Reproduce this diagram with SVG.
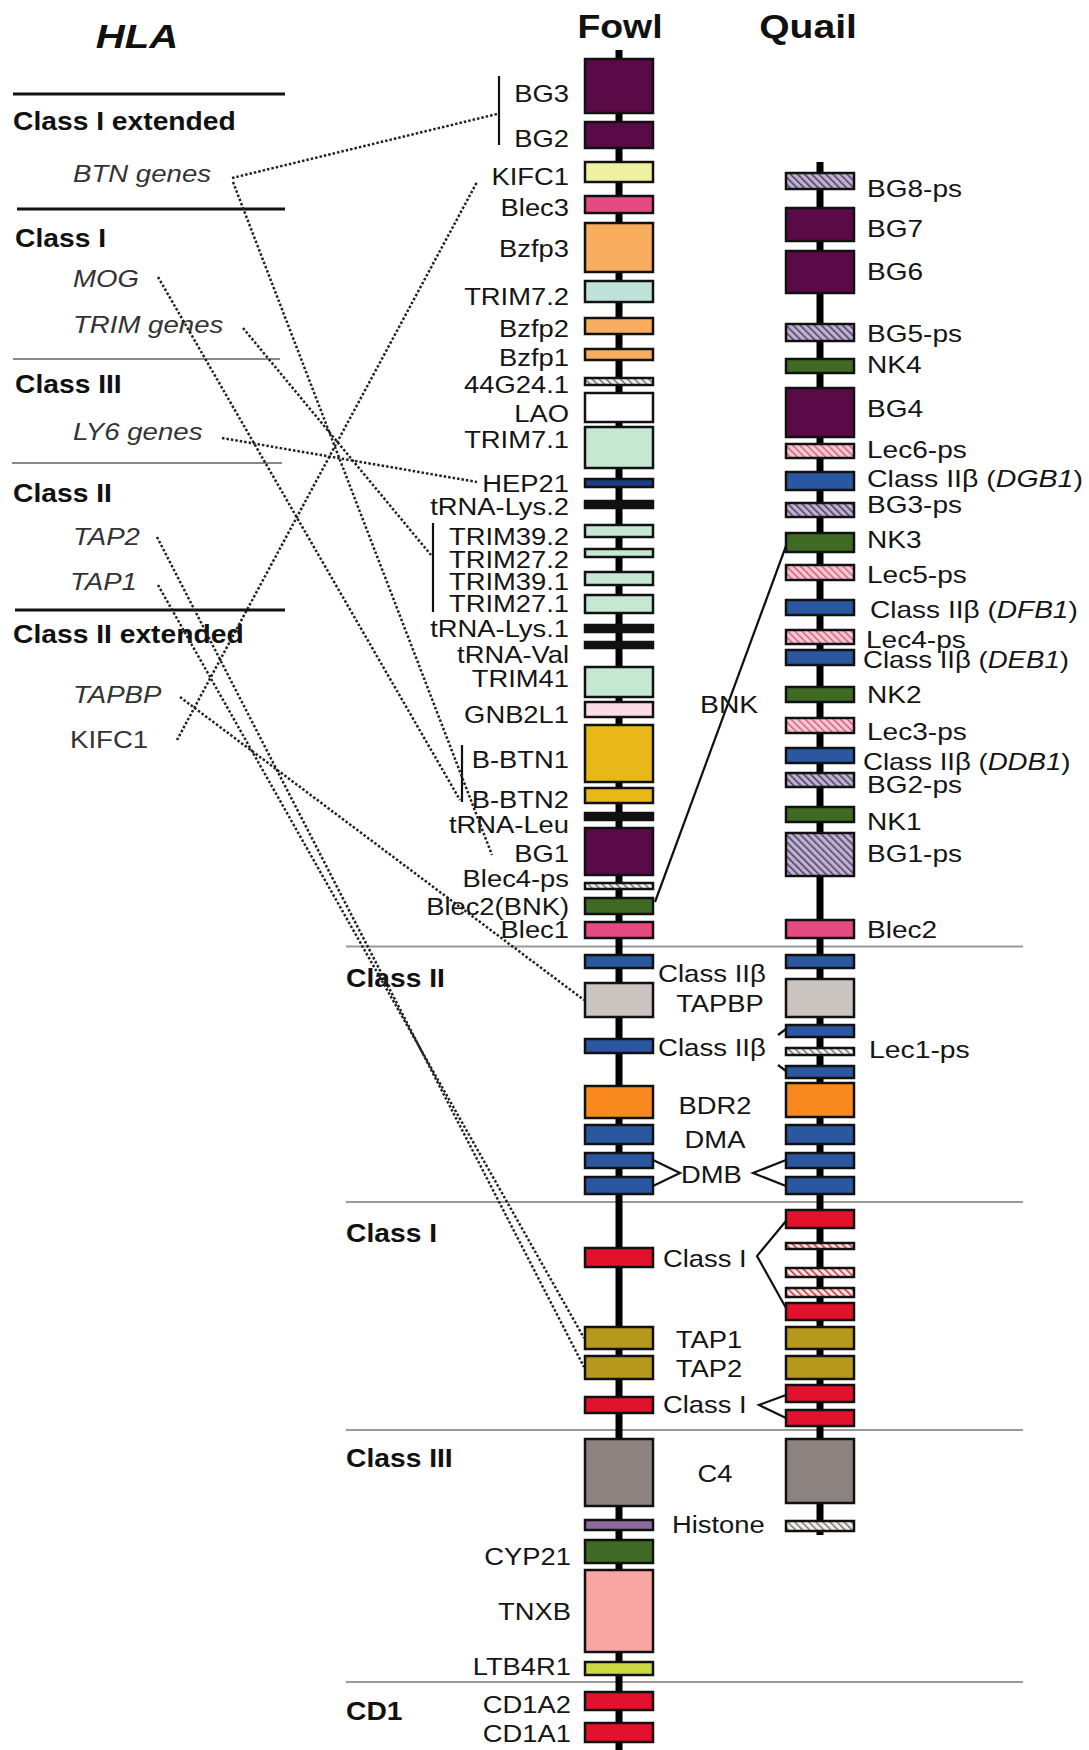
<svg xmlns="http://www.w3.org/2000/svg" width="1089" height="1750" viewBox="0 0 1089 1750">
<defs>
<pattern id="hLav" width="5" height="5" patternUnits="userSpaceOnUse" patternTransform="rotate(-45)"><rect width="5" height="5" fill="#bfb2cf"/><rect width="1.5" height="5" fill="#4b3b5e"/></pattern>
<pattern id="hPink" width="5" height="5" patternUnits="userSpaceOnUse" patternTransform="rotate(-45)"><rect width="5" height="5" fill="#f7c6d2"/><rect width="1.3" height="5" fill="#c4566f"/></pattern>
<pattern id="hGray" width="5" height="5" patternUnits="userSpaceOnUse" patternTransform="rotate(-45)"><rect width="5" height="5" fill="#f3efe8"/><rect width="1.3" height="5" fill="#666"/></pattern>
<pattern id="hRed" width="5" height="5" patternUnits="userSpaceOnUse" patternTransform="rotate(-45)"><rect width="5" height="5" fill="#fbe6e2"/><rect width="1.5" height="5" fill="#d42a3c"/></pattern>
<style>
g>rect{stroke:#111;stroke-width:2.5}
.bg{fill:#5a0a46}.kif{fill:#eef0a2}.blec{fill:#e64a82}.bz{fill:#f9ad5e}.tr{fill:#c6e7d2}.tr2{fill:#bfe3d8}
.lao{fill:#fff}.hep{fill:#1f3d85}.trna{fill:#111}.gnb{fill:#fadbe6}.btn{fill:#e8b818}.nk{fill:#3f6a24}
.cl2{fill:#2b56a0}.tpb{fill:#cac4c1}.bdr{fill:#f7891f}.tap{fill:#b6981c}.cl1{fill:#e2122c}.c4{fill:#8c8381}
.his{fill:#8c6c9f}.tnx{fill:#f9a5a2}.ltb{fill:#cbd841}
.hl{fill:url(#hLav)}.hp{fill:url(#hPink)}.hg{fill:url(#hGray)}.hr{fill:url(#hRed)}
text{font-family:"Liberation Sans",Arial,sans-serif;fill:#151515}
.fl{font-size:24px;text-anchor:end}
.ql{font-size:23px}
.ml{font-size:24px}
.mc{font-size:24px;text-anchor:middle}
.hd{font-size:25px;font-weight:bold;fill:#111}
.gi{font-size:24px;font-style:italic;fill:#333}
.gn{font-size:24px;fill:#333}
.tt{font-size:34px;font-weight:bold;text-anchor:middle;fill:#111}
.dot{fill:none;stroke:#222;stroke-width:2.5;stroke-dasharray:2.5 2}
.sol{fill:none;stroke:#111;stroke-width:2.2}
.chr{stroke:#000;stroke-width:7}
</style>
</defs>
<rect x="0" y="0" width="1089" height="1750" fill="#fff"/>

<g id="hla-panel">
<text class="tt" style="font-style:italic" transform="matrix(1.18 0 0 1 137 48)">HLA</text>
<line x1="13" y1="94" x2="285" y2="94" stroke="#111" stroke-width="3"/>
<line x1="17" y1="209" x2="285" y2="209" stroke="#111" stroke-width="3"/>
<line x1="13" y1="359" x2="280" y2="359" stroke="#888" stroke-width="2"/>
<line x1="12" y1="463" x2="282" y2="463" stroke="#888" stroke-width="2"/>
<line x1="15" y1="610" x2="285" y2="610" stroke="#111" stroke-width="3"/>
<text class="hd" transform="matrix(1.13 0 0 1 13 130)">Class I extended</text>
<text class="gi" transform="matrix(1.15 0 0 1 73 182)">BTN genes</text>
<text class="hd" transform="matrix(1.13 0 0 1 15 247)">Class I</text>
<text class="gi" transform="matrix(1.15 0 0 1 73 287)">MOG</text>
<text class="gi" transform="matrix(1.15 0 0 1 73 333)">TRIM genes</text>
<text class="hd" transform="matrix(1.13 0 0 1 15 393)">Class III</text>
<text class="gi" transform="matrix(1.15 0 0 1 73 440)">LY6 genes</text>
<text class="hd" transform="matrix(1.13 0 0 1 13 502)">Class II</text>
<text class="gi" transform="matrix(1.15 0 0 1 73 545)">TAP2</text>
<text class="gi" transform="matrix(1.15 0 0 1 70 590)">TAP1</text>
<text class="hd" transform="matrix(1.13 0 0 1 13 643)">Class II extended</text>
<text class="gi" transform="matrix(1.15 0 0 1 73 703)">TAPBP</text>
<text class="gn" transform="matrix(1.15 0 0 1 70 748)">KIFC1</text>
</g>

<g id="region-lines">
<line x1="346" y1="946.5" x2="1023" y2="946.5" stroke="#999" stroke-width="2"/>
<line x1="346" y1="1202" x2="1023" y2="1202" stroke="#999" stroke-width="2"/>
<line x1="346" y1="1430" x2="1023" y2="1430" stroke="#999" stroke-width="2"/>
<line x1="346" y1="1682" x2="1023" y2="1682" stroke="#999" stroke-width="2"/>
<text class="hd" transform="matrix(1.13 0 0 1 346 987)">Class II</text>
<text class="hd" transform="matrix(1.13 0 0 1 346 1242)">Class I</text>
<text class="hd" transform="matrix(1.13 0 0 1 346 1467)">Class III</text>
<text class="hd" transform="matrix(1.13 0 0 1 346 1720)">CD1</text>
</g>

<g id="titles">
<text class="tt" transform="matrix(1.1 0 0 1 620 38)">Fowl</text>
<text class="tt" transform="matrix(1.15 0 0 1 808 38)">Quail</text>
</g>

<g id="chromosomes">
<line class="chr" x1="619" y1="50" x2="619" y2="1750"/>
<line class="chr" x1="820" y1="162" x2="820" y2="1535"/>
</g>

<g id="connectors">
<line class="sol" x1="499" y1="76" x2="499" y2="145"/>
<line class="sol" x1="433" y1="523" x2="433" y2="612"/>
<line class="sol" x1="462" y1="745" x2="462" y2="802"/>
<path class="dot" d="M232 178 L497 114"/>
<path class="dot" d="M233 182 L492 855"/>
<path class="dot" d="M158 277 L460 800"/>
<path class="dot" d="M243 328 L431 555"/>
<path class="dot" d="M222 438 L477 482"/>
<path class="dot" d="M157 537 L584 1367"/>
<path class="dot" d="M158 585 L584 1338"/>
<path class="dot" d="M180 697 L584 1000"/>
<path class="dot" d="M177 740 L477 182"/>
<line class="sol" x1="655" y1="902" x2="786" y2="546" stroke-width="2.5"/>
<polyline class="sol" points="653,1160 680,1173 653,1186"/>
<polyline class="sol" points="786,1160 753,1173 786,1186"/>
<polyline class="sol" points="786,1221 757,1256 786,1308"/>
<polyline class="sol" points="786,1395 759,1405 786,1418"/>
<line class="sol" x1="778" y1="1035" x2="786" y2="1029"/>
<line class="sol" x1="778" y1="1065" x2="786" y2="1071"/>
<text class="ml" transform="matrix(1.18 0 0 1 700 713)">BNK</text>
</g>

<g id="fowl">
<g id="f-bg3"><rect class="bg" x="585" y="59" width="68" height="54"/><text class="fl" transform="matrix(1.14 0 0 1 569 102)">BG3</text></g>
<g id="f-bg2"><rect class="bg" x="585" y="122" width="68" height="26"/><text class="fl" transform="matrix(1.14 0 0 1 569 147)">BG2</text></g>
<g id="f-kifc1"><rect class="kif" x="585" y="162" width="68" height="20"/><text class="fl" transform="matrix(1.14 0 0 1 569 185)">KIFC1</text></g>
<g id="f-blec3"><rect class="blec" x="585" y="196" width="68" height="17"/><text class="fl" transform="matrix(1.14 0 0 1 569 216)">Blec3</text></g>
<g id="f-bzfp3"><rect class="bz" x="585" y="223" width="68" height="49"/><text class="fl" transform="matrix(1.14 0 0 1 569 257)">Bzfp3</text></g>
<g id="f-trim72"><rect class="tr2" x="585" y="281" width="68" height="21"/><text class="fl" transform="matrix(1.14 0 0 1 569 305)">TRIM7.2</text></g>
<g id="f-bzfp2"><rect class="bz" x="585" y="318" width="68" height="16"/><text class="fl" transform="matrix(1.14 0 0 1 569 337)">Bzfp2</text></g>
<g id="f-bzfp1"><rect class="bz" x="585" y="349" width="68" height="11"/><text class="fl" transform="matrix(1.14 0 0 1 569 366)">Bzfp1</text></g>
<g id="f-44g241"><rect class="hg" x="585" y="378" width="68" height="7"/><text class="fl" transform="matrix(1.14 0 0 1 569 393)">44G24.1</text></g>
<g id="f-lao"><rect class="lao" x="585" y="393" width="68" height="29"/><text class="fl" transform="matrix(1.14 0 0 1 569 422)">LAO</text></g>
<g id="f-trim71"><rect class="tr" x="585" y="427" width="68" height="41"/><text class="fl" transform="matrix(1.14 0 0 1 569 448)">TRIM7.1</text></g>
<g id="f-hep21"><rect class="hep" x="585" y="479" width="68" height="8"/><text class="fl" transform="matrix(1.14 0 0 1 569 492)">HEP21</text></g>
<g id="f-trnalys2"><rect class="trna" x="585" y="501" width="68" height="7"/><text class="fl" transform="matrix(1.14 0 0 1 569 515)">tRNA-Lys.2</text></g>
<g id="f-trim392"><rect class="tr" x="585" y="525" width="68" height="12"/><text class="fl" transform="matrix(1.14 0 0 1 569 545)">TRIM39.2</text></g>
<g id="f-trim272"><rect class="tr" x="585" y="549" width="68" height="8"/><text class="fl" transform="matrix(1.14 0 0 1 569 568)">TRIM27.2</text></g>
<g id="f-trim391"><rect class="tr" x="585" y="572" width="68" height="13"/><text class="fl" transform="matrix(1.14 0 0 1 569 590)">TRIM39.1</text></g>
<g id="f-trim271"><rect class="tr" x="585" y="595" width="68" height="18"/><text class="fl" transform="matrix(1.14 0 0 1 569 612)">TRIM27.1</text></g>
<g id="f-trnalys1"><rect class="trna" x="585" y="625" width="68" height="7"/><text class="fl" transform="matrix(1.14 0 0 1 569 637)">tRNA-Lys.1</text></g>
<g id="f-trnaval"><rect class="trna" x="585" y="642" width="68" height="6"/><text class="fl" transform="matrix(1.14 0 0 1 569 663)">tRNA-Val</text></g>
<g id="f-trim41"><rect class="tr" x="585" y="667" width="68" height="30"/><text class="fl" transform="matrix(1.14 0 0 1 569 687)">TRIM41</text></g>
<g id="f-gnb2l1"><rect class="gnb" x="585" y="702" width="68" height="15"/><text class="fl" transform="matrix(1.14 0 0 1 569 723)">GNB2L1</text></g>
<g id="f-bbtn1"><rect class="btn" x="585" y="725" width="68" height="57"/><text class="fl" transform="matrix(1.14 0 0 1 569 768)">B-BTN1</text></g>
<g id="f-bbtn2"><rect class="btn" x="585" y="788" width="68" height="15"/><text class="fl" transform="matrix(1.14 0 0 1 569 808)">B-BTN2</text></g>
<g id="f-trnaleu"><rect class="trna" x="585" y="813" width="68" height="7"/><text class="fl" transform="matrix(1.14 0 0 1 569 833)">tRNA-Leu</text></g>
<g id="f-bg1"><rect class="bg" x="585" y="828" width="68" height="47"/><text class="fl" transform="matrix(1.14 0 0 1 569 862)">BG1</text></g>
<g id="f-blec4ps"><rect class="hg" x="585" y="883" width="68" height="6"/><text class="fl" transform="matrix(1.14 0 0 1 569 887)">Blec4-ps</text></g>
<g id="f-blec2bnk"><rect class="nk" x="585" y="898" width="68" height="16"/><text class="fl" transform="matrix(1.14 0 0 1 569 915)">Blec2(BNK)</text></g>
<g id="f-blec1"><rect class="blec" x="585" y="922" width="68" height="16"/><text class="fl" transform="matrix(1.14 0 0 1 569 938)">Blec1</text></g>
<g id="f-cl2b1"><rect class="cl2" x="585" y="955" width="68" height="13"/><text class="ml" transform="matrix(1.15 0 0 1 658 982)">Class IIβ</text></g>
<g id="f-tapbp"><rect class="tpb" x="585" y="983" width="68" height="34"/><text class="mc" transform="matrix(1.14 0 0 1 720 1012)">TAPBP</text></g>
<g id="f-cl2b2"><rect class="cl2" x="585" y="1039" width="68" height="14"/><text class="ml" transform="matrix(1.15 0 0 1 658 1056)">Class IIβ</text></g>
<g id="f-bdr2"><rect class="bdr" x="585" y="1086" width="68" height="32"/><text class="mc" transform="matrix(1.14 0 0 1 715 1114)">BDR2</text></g>
<g id="f-dma"><rect class="cl2" x="585" y="1125" width="68" height="19"/><text class="mc" transform="matrix(1.14 0 0 1 715 1148)">DMA</text></g>
<g id="f-dmb1"><rect class="cl2" x="585" y="1153" width="68" height="15"/><text class="ml" transform="matrix(1.14 0 0 1 681 1183)">DMB</text></g>
<g id="f-dmb2"><rect class="cl2" x="585" y="1177" width="68" height="17"/></g>
<g id="f-class1a"><rect class="cl1" x="585" y="1248" width="68" height="19"/><text class="ml" transform="matrix(1.14 0 0 1 663 1267)">Class I</text></g>
<g id="f-tap1"><rect class="tap" x="585" y="1327" width="68" height="22"/><text class="mc" transform="matrix(1.14 0 0 1 709 1348)">TAP1</text></g>
<g id="f-tap2"><rect class="tap" x="585" y="1356" width="68" height="23"/><text class="mc" transform="matrix(1.14 0 0 1 709 1377)">TAP2</text></g>
<g id="f-class1b"><rect class="cl1" x="585" y="1397" width="68" height="16"/><text class="ml" transform="matrix(1.14 0 0 1 663 1413)">Class I</text></g>
<g id="f-c4"><rect class="c4" x="585" y="1439" width="68" height="67"/><text class="mc" transform="matrix(1.14 0 0 1 715 1482)">C4</text></g>
<g id="f-histone"><rect class="his" x="585" y="1520" width="68" height="10"/><text class="ml" transform="matrix(1.14 0 0 1 672 1533)">Histone</text></g>
<g id="f-cyp21"><rect class="nk" x="585" y="1540" width="68" height="23"/><text class="fl" transform="matrix(1.14 0 0 1 571 1565)">CYP21</text></g>
<g id="f-tnxb"><rect class="tnx" x="585" y="1570" width="68" height="82"/><text class="fl" transform="matrix(1.14 0 0 1 571 1620)">TNXB</text></g>
<g id="f-ltb4r1"><rect class="ltb" x="585" y="1662" width="68" height="13"/><text class="fl" transform="matrix(1.14 0 0 1 571 1675)">LTB4R1</text></g>
<g id="f-cd1a2"><rect class="cl1" x="585" y="1692" width="68" height="18"/><text class="fl" transform="matrix(1.14 0 0 1 571 1713)">CD1A2</text></g>
<g id="f-cd1a1"><rect class="cl1" x="585" y="1723" width="68" height="19"/><text class="fl" transform="matrix(1.14 0 0 1 571 1742)">CD1A1</text></g>
</g>

<g id="quail">
<g id="q-bg8ps"><rect class="hl" x="786" y="173" width="68" height="16"/><text class="ql" transform="matrix(1.22 0 0 1 867 197)">BG8-ps</text></g>
<g id="q-bg7"><rect class="bg" x="786" y="208" width="68" height="33"/><text class="ql" transform="matrix(1.22 0 0 1 867 237)">BG7</text></g>
<g id="q-bg6"><rect class="bg" x="786" y="251" width="68" height="42"/><text class="ql" transform="matrix(1.22 0 0 1 867 280)">BG6</text></g>
<g id="q-bg5ps"><rect class="hl" x="786" y="324" width="68" height="17"/><text class="ql" transform="matrix(1.22 0 0 1 867 342)">BG5-ps</text></g>
<g id="q-nk4"><rect class="nk" x="786" y="359" width="68" height="14"/><text class="ql" transform="matrix(1.22 0 0 1 867 373)">NK4</text></g>
<g id="q-bg4"><rect class="bg" x="786" y="388" width="68" height="49"/><text class="ql" transform="matrix(1.22 0 0 1 867 417)">BG4</text></g>
<g id="q-lec6ps"><rect class="hp" x="786" y="444" width="68" height="14"/><text class="ql" transform="matrix(1.22 0 0 1 867 458)">Lec6-ps</text></g>
<g id="q-dgb1"><rect class="cl2" x="786" y="472" width="68" height="18"/><text class="ql" transform="matrix(1.24 0 0 1 867 487)">Class IIβ (<tspan font-style="italic">DGB1</tspan>)</text></g>
<g id="q-bg3ps"><rect class="hl" x="786" y="503" width="68" height="14"/><text class="ql" transform="matrix(1.22 0 0 1 867 513)">BG3-ps</text></g>
<g id="q-nk3"><rect class="nk" x="786" y="533" width="68" height="19"/><text class="ql" transform="matrix(1.22 0 0 1 867 548)">NK3</text></g>
<g id="q-lec5ps"><rect class="hp" x="786" y="565" width="68" height="15"/><text class="ql" transform="matrix(1.22 0 0 1 867 583)">Lec5-ps</text></g>
<g id="q-dfb1"><rect class="cl2" x="786" y="600" width="68" height="15"/><text class="ql" transform="matrix(1.22 0 0 1 870 618)">Class IIβ (<tspan font-style="italic">DFB1</tspan>)</text></g>
<g id="q-lec4ps"><rect class="hp" x="786" y="630" width="68" height="14"/><text class="ql" transform="matrix(1.22 0 0 1 866 648)">Lec4-ps</text></g>
<g id="q-deb1"><rect class="cl2" x="786" y="650" width="68" height="15"/><text class="ql" transform="matrix(1.2 0 0 1 863 668)">Class IIβ (<tspan font-style="italic">DEB1</tspan>)</text></g>
<g id="q-nk2"><rect class="nk" x="786" y="687" width="68" height="15"/><text class="ql" transform="matrix(1.22 0 0 1 867 703)">NK2</text></g>
<g id="q-lec3ps"><rect class="hp" x="786" y="718" width="68" height="15"/><text class="ql" transform="matrix(1.22 0 0 1 867 740)">Lec3-ps</text></g>
<g id="q-ddb1"><rect class="cl2" x="786" y="748" width="68" height="15"/><text class="ql" transform="matrix(1.2 0 0 1 863 770)">Class IIβ (<tspan font-style="italic">DDB1</tspan>)</text></g>
<g id="q-bg2ps"><rect class="hl" x="786" y="773" width="68" height="14"/><text class="ql" transform="matrix(1.22 0 0 1 867 793)">BG2-ps</text></g>
<g id="q-nk1"><rect class="nk" x="786" y="807" width="68" height="15"/><text class="ql" transform="matrix(1.22 0 0 1 867 830)">NK1</text></g>
<g id="q-bg1ps"><rect class="hl" x="786" y="833" width="68" height="43"/><text class="ql" transform="matrix(1.22 0 0 1 867 862)">BG1-ps</text></g>
<g id="q-blec2"><rect class="blec" x="786" y="920" width="68" height="18"/><text class="ql" transform="matrix(1.22 0 0 1 867 938)">Blec2</text></g>
<g id="q-cl2b"><rect class="cl2" x="786" y="955" width="68" height="13"/></g>
<g id="q-tapbp"><rect class="tpb" x="786" y="979" width="68" height="38"/></g>
<g id="q-cl2b-a"><rect class="cl2" x="786" y="1025" width="68" height="12"/></g>
<g id="q-lec1ps"><rect class="hg" x="786" y="1048" width="68" height="7"/><text class="ml" transform="matrix(1.18 0 0 1 869 1058)">Lec1-ps</text></g>
<g id="q-cl2b-b"><rect class="cl2" x="786" y="1066" width="68" height="12"/></g>
<g id="q-bdr2"><rect class="bdr" x="786" y="1083" width="68" height="34"/></g>
<g id="q-dma"><rect class="cl2" x="786" y="1125" width="68" height="19"/></g>
<g id="q-dmb1"><rect class="cl2" x="786" y="1153" width="68" height="15"/></g>
<g id="q-dmb2"><rect class="cl2" x="786" y="1177" width="68" height="17"/></g>
<g id="q-class1a"><rect class="cl1" x="786" y="1210" width="68" height="18"/></g>
<g id="q-class1ps1"><rect class="hr" x="786" y="1243" width="68" height="6"/></g>
<g id="q-class1ps2"><rect class="hr" x="786" y="1268" width="68" height="9"/></g>
<g id="q-class1ps3"><rect class="hr" x="786" y="1288" width="68" height="9"/></g>
<g id="q-class1b"><rect class="cl1" x="786" y="1303" width="68" height="17"/></g>
<g id="q-tap1"><rect class="tap" x="786" y="1327" width="68" height="22"/></g>
<g id="q-tap2"><rect class="tap" x="786" y="1356" width="68" height="23"/></g>
<g id="q-class1c"><rect class="cl1" x="786" y="1385" width="68" height="17"/></g>
<g id="q-class1d"><rect class="cl1" x="786" y="1410" width="68" height="16"/></g>
<g id="q-c4"><rect class="c4" x="786" y="1439" width="68" height="64"/></g>
<g id="q-histone"><rect class="hg" x="786" y="1521" width="68" height="10"/></g>
</g>
</svg>
